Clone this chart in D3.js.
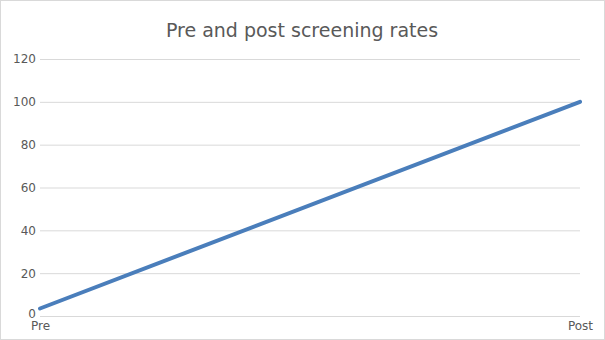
<!DOCTYPE html>
<html><head><meta charset="utf-8">
<script src="https://cdn.jsdelivr.net/npm/d3@7"></script>
<style>body{margin:0;background:#fff;}svg{display:block;font-family:"DejaVu Sans",sans-serif;}</style>
</head><body>
<script>
const categories = ["Pre", "Post"];
const rates = [3.5, 100];
const yTicks = [0, 20, 40, 60, 80, 100, 120];
const title = "Pre and post screening rates";

const W = 605, H = 340;
const svg = d3.select("body").append("svg").attr("width", W).attr("height", H);
svg.append("rect").attr("x", 0.5).attr("y", 0.5).attr("width", W - 1).attr("height", H - 1)
  .attr("fill", "#fff").attr("stroke", "#d9d9d9");

const x = d3.scalePoint().domain(categories).range([40, 580]);
const y = d3.scaleLinear().domain([0, 120]).range([316, 59]);

svg.append("text").attr("x", 302).attr("y", 37).attr("text-anchor", "middle")
  .attr("font-size", 19).attr("fill", "#595959").text(title);

const yAxis = svg.append("g").attr("transform", "translate(40,0)")
  .call(d3.axisLeft(y).tickValues(yTicks).tickSize(-540).tickPadding(4));
yAxis.select(".domain").remove();
yAxis.selectAll(".tick line").attr("stroke", "#d9d9d9");
yAxis.selectAll(".tick text").attr("font-size", 12).attr("fill", "#595959").attr("font-family", "DejaVu Sans");
yAxis.selectAll(".tick").filter(d => d === 0).select("line").remove();
yAxis.selectAll(".tick").filter(d => d === 0).select("text").attr("dy", "0.1em");

const xAxis = svg.append("g").attr("transform", "translate(0,316)")
  .call(d3.axisBottom(x).tickSize(0).tickPadding(5));
xAxis.select(".domain").attr("stroke", "#d9d9d9").attr("d", "M40,0.5H580");
xAxis.selectAll(".tick text").attr("font-size", 12).attr("fill", "#595959").attr("font-family", "DejaVu Sans");

const line = d3.line().x((d, i) => x(categories[i])).y(d => y(d));
svg.append("path").datum(rates).attr("d", line).attr("fill", "none")
  .attr("stroke", "#4a7ebb").attr("stroke-width", 4).attr("stroke-linecap", "round");
</script>
</body></html>
